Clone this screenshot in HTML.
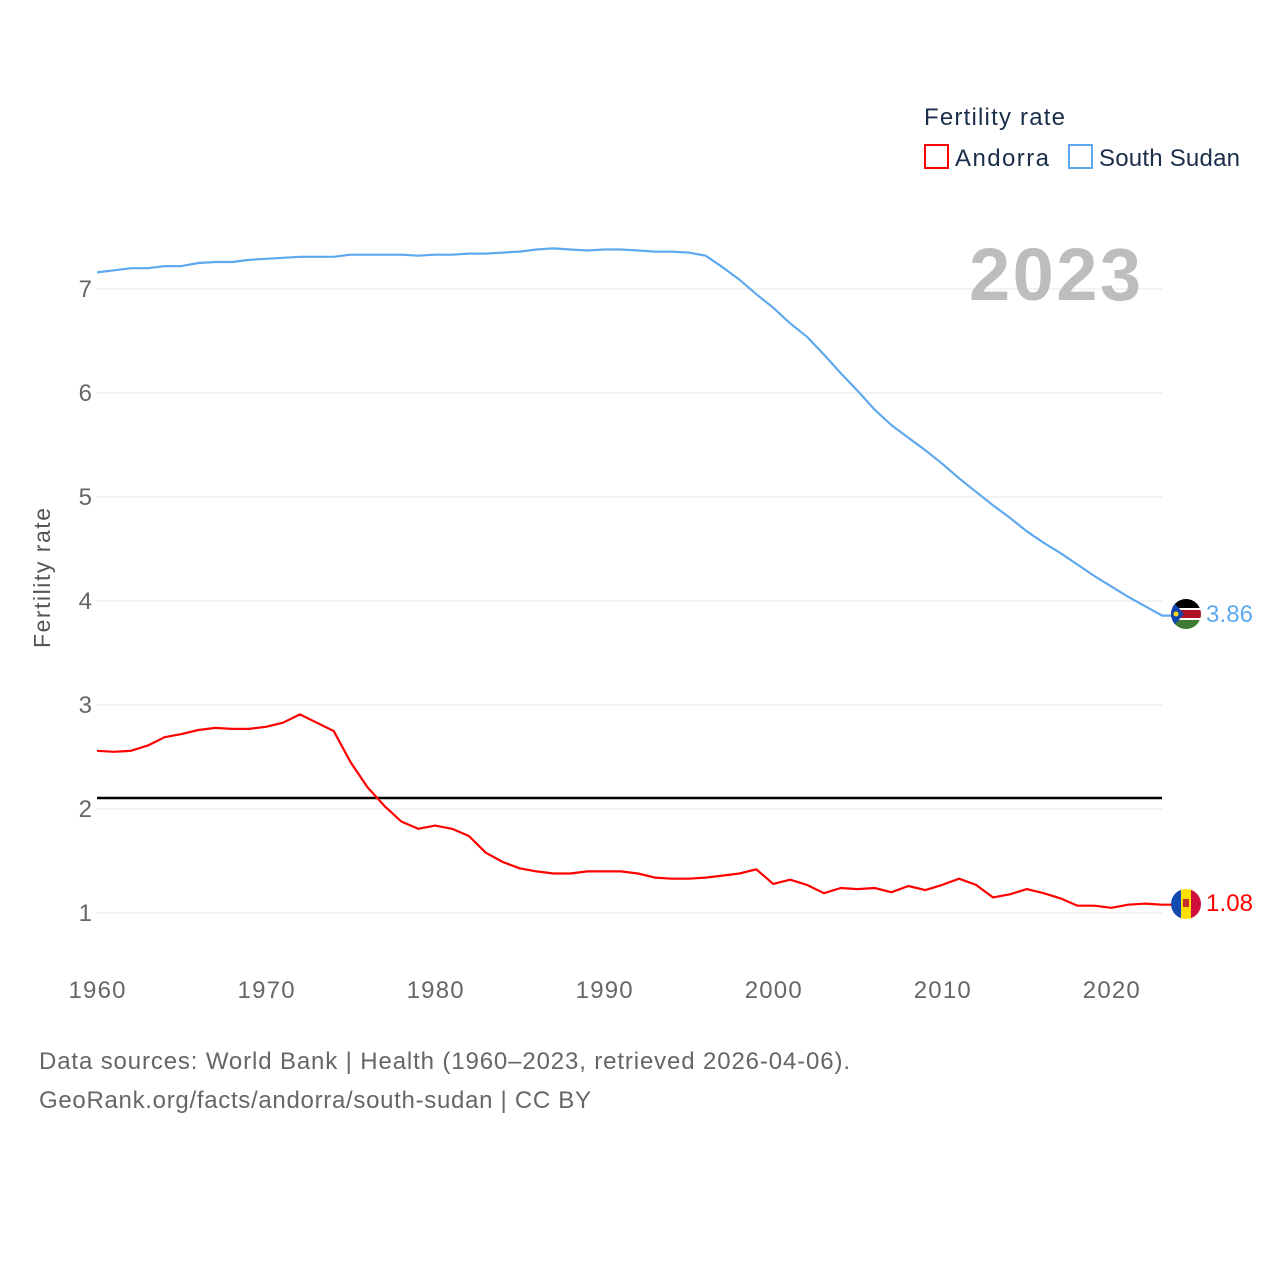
<!DOCTYPE html>
<html><head><meta charset="utf-8"><style>
body{margin:0;background:#fff;width:1280px;height:1280px;overflow:hidden;font-family:"Liberation Sans",sans-serif}
svg text{font-family:"Liberation Sans",sans-serif}
</style></head><body>
<svg id="chart" width="1280" height="1280" xmlns="http://www.w3.org/2000/svg">
<g id="grid"></g>
<g id="yticks"></g>
<g id="xticks"></g>
<text x="969" y="300" textLength="172" font-size="74" font-weight="bold" fill="#bdbdbd">2023</text>
<line x1="97" x2="1162" y1="798" y2="798" stroke="#000" stroke-width="2.5"/>
<g id="series"></g>
<text transform="translate(50,578) rotate(-90)" text-anchor="middle" font-size="23" fill="#555" textLength="140">Fertility rate</text>
<text x="924" y="125" font-size="24" fill="#1a2e4a" textLength="141">Fertility rate</text>
<rect x="925" y="145" width="23" height="23" fill="none" stroke="#f00" stroke-width="2"/>
<text x="955" y="166" font-size="24" fill="#1a2e4a" textLength="94">Andorra</text>
<rect x="1069" y="145" width="23" height="23" fill="none" stroke="#5ea8ee" stroke-width="2"/>
<text x="1099" y="166" font-size="24" fill="#1a2e4a" textLength="141">South Sudan</text>
<g>
<clipPath id="c1"><circle cx="1186" cy="614" r="15"/></clipPath>
<g clip-path="url(#c1)"><rect x="1170" y="598" width="32" height="10" fill="#000"/><rect x="1170" y="608" width="32" height="2" fill="#fff"/><rect x="1170" y="610" width="32" height="8" fill="#b0122a"/><rect x="1170" y="618" width="32" height="2" fill="#fff"/><rect x="1170" y="620" width="32" height="10" fill="#3f7a35"/><polygon points="1170,598 1184,614 1170,630" fill="#0f47af"/><circle cx="1176" cy="614" r="2.5" fill="#fcdd09"/></g>
</g>
<text x="1206" y="622" font-size="24" fill="#5ea8ee" textLength="47">3.86</text>
<g>
<clipPath id="c2"><circle cx="1186" cy="904" r="15"/></clipPath>
<g clip-path="url(#c2)"><rect x="1170" y="888" width="11" height="32" fill="#1049b0"/><rect x="1181" y="888" width="10" height="32" fill="#fedf00"/><rect x="1191" y="888" width="12" height="32" fill="#d0103a"/><rect x="1183" y="899" width="6" height="8" fill="#c7302a"/></g>
</g>
<text x="1206" y="911" font-size="24" fill="#f00" textLength="47">1.08</text>
<text x="39" y="1069" font-size="24" fill="#666" textLength="811">Data sources: World Bank | Health (1960–2023, retrieved 2026-04-06).</text>
<text x="39" y="1108" font-size="24" fill="#666" textLength="552">GeoRank.org/facts/andorra/south-sudan | CC BY</text>
</svg>
<script>
const years=[];for(let y=1960;y<=2023;y++)years.push(y);
const andorra=[2.56,2.55,2.56,2.61,2.69,2.72,2.76,2.78,2.77,2.77,2.79,2.83,2.91,2.83,2.75,2.45,2.21,2.03,1.88,1.81,1.84,1.81,1.74,1.58,1.49,1.43,1.40,1.38,1.38,1.40,1.40,1.40,1.38,1.34,1.33,1.33,1.34,1.36,1.38,1.42,1.28,1.32,1.27,1.19,1.24,1.23,1.24,1.20,1.26,1.22,1.27,1.33,1.27,1.15,1.18,1.23,1.19,1.14,1.07,1.07,1.05,1.08,1.09,1.08];
const southSudan=[7.16,7.18,7.20,7.20,7.22,7.22,7.25,7.26,7.26,7.28,7.29,7.30,7.31,7.31,7.31,7.33,7.33,7.33,7.33,7.32,7.33,7.33,7.34,7.34,7.35,7.36,7.38,7.39,7.38,7.37,7.38,7.38,7.37,7.36,7.36,7.35,7.32,7.21,7.09,6.95,6.82,6.67,6.54,6.37,6.19,6.02,5.84,5.69,5.57,5.45,5.32,5.18,5.05,4.92,4.80,4.67,4.56,4.46,4.35,4.24,4.14,4.04,3.95,3.86];
const yTicks=[1,2,3,4,5,6,7];
const xTicks=[1960,1970,1980,1990,2000,2010,2020];
const NS='http://www.w3.org/2000/svg';
const X=v=>97+(v-1960)*(1162-97)/63;
const Y=v=>913-(v-1)*104;
function mk(tag,attrs,parent){const e=document.createElementNS(NS,tag);for(const k in attrs)e.setAttribute(k,attrs[k]);parent.appendChild(e);return e;}
const grid=document.getElementById('grid'),yt=document.getElementById('yticks'),xt=document.getElementById('xticks'),ser=document.getElementById('series');
yTicks.forEach(v=>{
 const l=mk('line',{x1:97,x2:1162,y1:Y(v),y2:Y(v),stroke:'#e6e6e6','stroke-width':1},grid);
 
 
 const t=mk('text',{x:92,y:Y(v)+8,'text-anchor':'end','font-size':24,fill:'#666'},yt);
 t.textContent=v;
 
 
});
xTicks.forEach(v=>{
 const t=mk('text',{x:X(v),y:998,'text-anchor':'middle','font-size':24,fill:'#666',textLength:57},xt);
 t.textContent=v;
 
 
});
function line(data,color,name){
 let d=data.map((v,i)=>(i?'L':'M')+X(years[i]).toFixed(1)+','+Y(v).toFixed(1)).join('');
 d+='L1172,'+Y(data[data.length-1]).toFixed(1);
 const p=mk('path',{d:d,fill:'none',stroke:color,'stroke-width':2.2,'stroke-linejoin':'round'},ser);
 
 
}
line(southSudan,'#5ea8ee','south-sudan-line');
line(andorra,'#ff0000','andorra-line');
</script>
</body></html>
